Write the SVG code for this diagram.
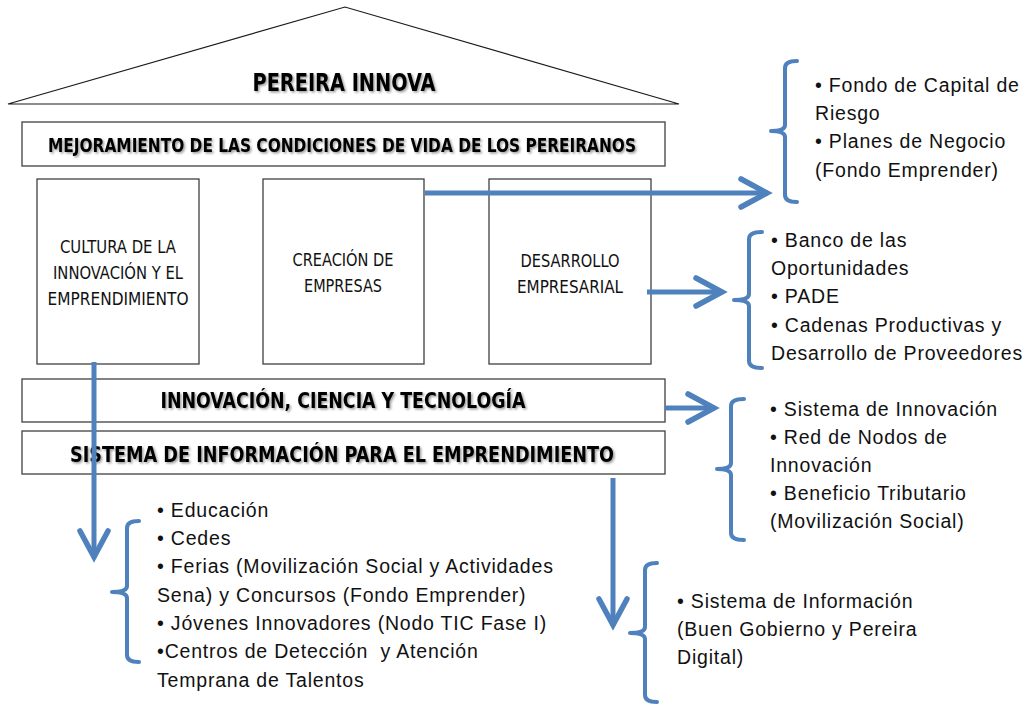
<svg xmlns="http://www.w3.org/2000/svg" width="1026" height="706" viewBox="0 0 1026 706">
<style>
.box{fill:#fff;stroke:#404040;stroke-width:1.3}
.roof{fill:#fff;stroke:#1a1a1a;stroke-width:1.2}
.head{font-family:"Liberation Sans Narrow","DejaVu Sans Condensed","Liberation Sans",sans-serif;font-weight:bold;fill:#000;text-anchor:middle;filter:url(#sh)}
.pil{font-family:"Liberation Sans Narrow","DejaVu Sans Condensed","Liberation Sans",sans-serif;font-size:17px;fill:#111;text-anchor:middle}
.body{font-family:"Liberation Sans",Arial,sans-serif;font-size:19.5px;letter-spacing:0.8px;fill:#111;white-space:pre}
.con{fill:none;stroke:#4F81BD;stroke-width:5}
.brace{fill:none;stroke:#4F81BD;stroke-width:4;stroke-linecap:round;stroke-linejoin:round}
</style>
<defs>
<filter id="sh" x="-5%" y="-30%" width="110%" height="160%">
<feDropShadow dx="1.5" dy="1.5" stdDeviation="1" flood-color="#000" flood-opacity="0.4"/>
</filter>
<marker id="chev" markerUnits="userSpaceOnUse" markerWidth="40" markerHeight="40" viewBox="-34 -20 40 40" refX="0" refY="0" orient="auto" overflow="visible">
<path d="M-27,-14 L-1,0 L-27,14" fill="none" stroke="#4F81BD" stroke-width="5.5" stroke-linecap="round" stroke-linejoin="miter"/>
</marker>
</defs>
<rect width="1026" height="706" fill="#fff"/>

<g id="roof">
<polygon class="roof" points="8,104 345,7 679,104"/>
<text class="head" x="344" y="91" font-size="25" textLength="183" lengthAdjust="spacingAndGlyphs">PEREIRA INNOVA</text>
</g>
<g id="mejoramiento">
<rect class="box" x="22" y="122" width="643" height="44"/>
<text class="head" x="342" y="152" font-size="20" textLength="588" lengthAdjust="spacingAndGlyphs">MEJORAMIENTO DE LAS CONDICIONES DE VIDA DE LOS PEREIRANOS</text>
</g>
<g id="cultura">
<rect class="box" x="37" y="179" width="162" height="185"/>
<text class="pil" x="118" y="253" textLength="116" lengthAdjust="spacingAndGlyphs">CULTURA DE LA</text>
<text class="pil" x="118" y="279" textLength="130" lengthAdjust="spacingAndGlyphs">INNOVACIÓN Y EL</text>
<text class="pil" x="118" y="305" textLength="141" lengthAdjust="spacingAndGlyphs">EMPRENDIMIENTO</text>
</g>
<g id="creacion">
<rect class="box" x="263" y="179" width="161" height="185"/>
<text class="pil" x="343" y="266" textLength="101" lengthAdjust="spacingAndGlyphs">CREACIÓN DE</text>
<text class="pil" x="343" y="292" textLength="78" lengthAdjust="spacingAndGlyphs">EMPRESAS</text>
</g>
<g id="desarrollo">
<rect class="box" x="489" y="179" width="162" height="185"/>
<text class="pil" x="570" y="267" textLength="99" lengthAdjust="spacingAndGlyphs">DESARROLLO</text>
<text class="pil" x="570" y="293" textLength="106" lengthAdjust="spacingAndGlyphs">EMPRESARIAL</text>
</g>
<g id="innovacion">
<rect class="box" x="22" y="379" width="643" height="43"/>
<text class="head" x="343" y="408" font-size="21" textLength="365" lengthAdjust="spacingAndGlyphs">INNOVACIÓN, CIENCIA Y TECNOLOGÍA</text>
</g>
<g id="sistema">
<rect class="box" x="22" y="431" width="643" height="43"/>
<text class="head" x="342" y="462" font-size="21" textLength="544" lengthAdjust="spacingAndGlyphs">SISTEMA DE INFORMACIÓN PARA EL EMPRENDIMIENTO</text>
</g>

<g id="connectors">
<path class="con" d="M425,193 H768" marker-end="url(#chev)"/>
<path class="con" d="M647,292 H723" marker-end="url(#chev)"/>
<path class="con" d="M665,408 H715" marker-end="url(#chev)"/>
<path class="con" d="M94,362 V558" marker-end="url(#chev)"/>
<path class="con" d="M613,478 V626" marker-end="url(#chev)"/>
</g>

<g id="list-fondo">
<path class="brace" d="M797,61 Q785,61 785,68 V125 Q785,131 771,131 Q785,131 785,137 V195 Q785,202 797,202"/>
<text class="body" x="815" y="92">• Fondo de Capital de</text>
<text class="body" x="815" y="120">Riesgo</text>
<text class="body" x="815" y="148">• Planes de Negocio</text>
<text class="body" x="815" y="177">(Fondo Emprender)</text>
</g>
<g id="list-banco">
<path class="brace" d="M762,232 Q749,232 749,239 V294 Q749,300 734,300 Q749,300 749,306 V361 Q749,368 762,368"/>
<text class="body" x="771" y="247">• Banco de las</text>
<text class="body" x="771" y="275">Oportunidades</text>
<text class="body" x="771" y="303">• PADE</text>
<text class="body" x="771" y="332">• Cadenas Productivas y</text>
<text class="body" x="771" y="360">Desarrollo de Proveedores</text>
</g>
<g id="list-innovacion">
<path class="brace" d="M744,399 Q731,399 731,406 V463 Q731,469 717,469 Q731,469 731,475 V533 Q731,540 744,540"/>
<text class="body" x="770" y="416">• Sistema de Innovación</text>
<text class="body" x="770" y="444">• Red de Nodos de</text>
<text class="body" x="770" y="472">Innovación</text>
<text class="body" x="770" y="500">• Beneficio Tributario</text>
<text class="body" x="770" y="528">(Movilización Social)</text>
</g>
<g id="list-cultura">
<path class="brace" d="M139,521 Q127,521 127,528 V586 Q127,592 112,592 Q127,592 127,598 V655 Q127,662 139,662"/>
<text class="body" x="157" y="517">• Educación</text>
<text class="body" x="157" y="545">• Cedes</text>
<text class="body" x="157" y="573">• Ferias (Movilización Social y Actividades</text>
<text class="body" x="157" y="602">Sena) y Concursos (Fondo Emprender)</text>
<text class="body" x="157" y="630">• Jóvenes Innovadores (Nodo TIC Fase I)</text>
<text class="body" x="157" y="658" xml:space="preserve">•Centros de Detección  y Atención</text>
<text class="body" x="157" y="687">Temprana de Talentos</text>
</g>
<g id="list-informacion">
<path class="brace" d="M657,563 Q645,563 645,570 V627 Q645,633 630,633 Q645,633 645,639 V695 Q645,702 657,702"/>
<text class="body" x="677" y="608">• Sistema de Información</text>
<text class="body" x="677" y="636">(Buen Gobierno y Pereira</text>
<text class="body" x="677" y="664">Digital)</text>
</g>
</svg>
